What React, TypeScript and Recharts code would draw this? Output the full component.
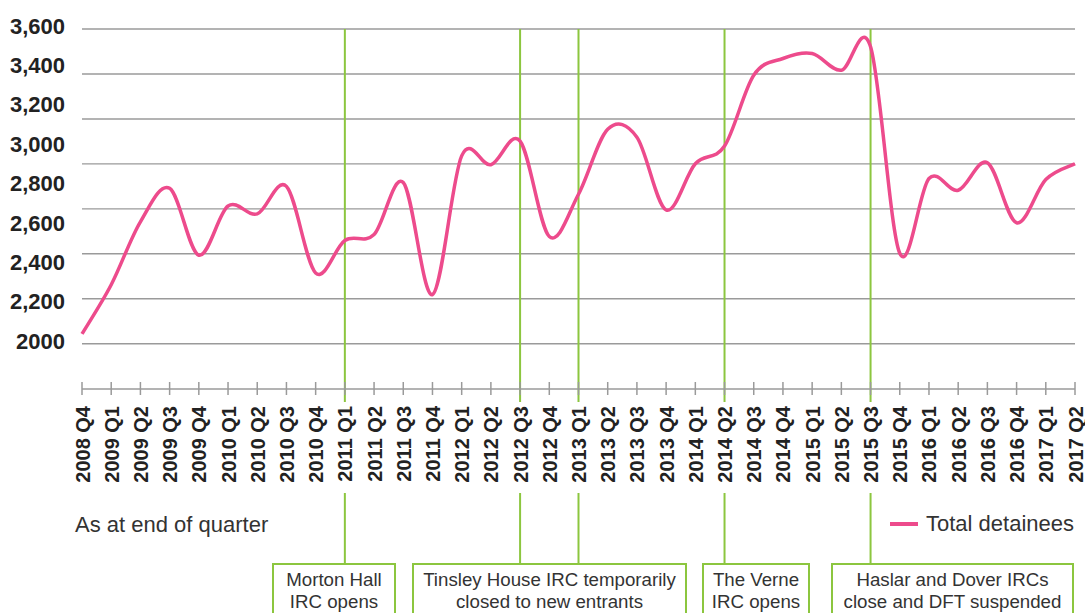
import React from 'react';
import { LineChart, Line, XAxis, YAxis, CartesianGrid, ReferenceLine } from 'recharts';

const quarters = [
  '2008 Q4',
  '2009 Q1', '2009 Q2', '2009 Q3', '2009 Q4',
  '2010 Q1', '2010 Q2', '2010 Q3', '2010 Q4',
  '2011 Q1', '2011 Q2', '2011 Q3', '2011 Q4',
  '2012 Q1', '2012 Q2', '2012 Q3', '2012 Q4',
  '2013 Q1', '2013 Q2', '2013 Q3', '2013 Q4',
  '2014 Q1', '2014 Q2', '2014 Q3', '2014 Q4',
  '2015 Q1', '2015 Q2', '2015 Q3', '2015 Q4',
  '2016 Q1', '2016 Q2', '2016 Q3', '2016 Q4',
  '2017 Q1', '2017 Q2',
];

const totalDetainees = [
  2050,
  2300, 2620, 2790, 2450,
  2700, 2660, 2800, 2360,
  2525, 2555, 2820, 2250,
  2955, 2910, 3030, 2545,
  2760, 3090, 3050, 2680,
  2915, 3005, 3365, 3450,
  3475, 3390, 3510, 2460,
  2840, 2780, 2920, 2615,
  2835, 2915,
];

const yTickValues = [2000, 2200, 2400, 2600, 2800, 3000, 3200, 3400, 3600];
const yTickLabels = ['2000', '2,200', '2,400', '2,600', '2,800', '3,000', '3,200', '3,400', '3,600'];

const seriesName = 'Total detainees';
const axisNote = 'As at end of quarter';

const eventQuarters = ['2011 Q1', '2012 Q3', '2013 Q1', '2014 Q2', '2015 Q3'];
const eventBoxTexts = [
  ['Morton Hall', 'IRC opens'],
  ['Tinsley House IRC temporarily', 'closed to new entrants'],
  ['The Verne', 'IRC opens'],
  ['Haslar and Dover IRCs', 'close and DFT suspended'],
];

// ---- layout / style ----
const W = 1085;
const H = 613;
const PLOT_TOP = 29;
const PLOT_BOTTOM = 389;
const Y_MIN = 1770;
const Y_MAX = 3600;
const PINK = '#ED4B8C';
const GREEN = '#8CC63F';
const GRID = '#9a9a9a';
const FONT = '"Liberation Sans", Arial, Helvetica, sans-serif';

const boxLayout = [
  { left: 272, width: 124 },
  { left: 412, width: 275 },
  { left: 702, width: 108 },
  { left: 831, width: 243 },
];

const valueAtPixel = (px: number) =>
  Y_MAX - ((px - PLOT_TOP) * (Y_MAX - Y_MIN)) / (PLOT_BOTTOM - PLOT_TOP);

const gridValues = Array.from({ length: 8 }, (_, k) => Y_MAX - (k * (Y_MAX - 2000)) / 7);

const data = quarters.map((q, i) => ({ quarter: q, total: totalDetainees[i] }));

// Catmull-Rom style smoothing (like spreadsheet "smoothed line")
const smoothCurve: any = (context: any) => {
  let pts: number[][] = [];
  return {
    areaStart() {},
    areaEnd() {},
    lineStart() {
      pts = [];
    },
    point(x: number, y: number) {
      pts.push([+x, +y]);
    },
    lineEnd() {
      const n = pts.length;
      if (!n) return;
      context.moveTo(pts[0][0], pts[0][1]);
      const k = 1 / 6;
      for (let i = 0; i < n - 1; i++) {
        const p0 = pts[Math.max(i - 1, 0)];
        const p1 = pts[i];
        const p2 = pts[i + 1];
        const p3 = pts[Math.min(i + 2, n - 1)];
        context.bezierCurveTo(
          p1[0] + (p2[0] - p0[0]) * k,
          p1[1] + (p2[1] - p0[1]) * k,
          p2[0] - (p3[0] - p1[0]) * k,
          p2[1] - (p3[1] - p1[1]) * k,
          p2[0],
          p2[1]
        );
      }
    },
  };
};

const XTick = (props: any) => {
  const { x, y, payload } = props;
  return (
    <g>
      <line x1={x} x2={x} y1={y - 24} y2={y - 11} stroke={GRID} strokeWidth={1.5} />
      <text
        transform={`translate(${x + 7.5},${y}) rotate(-90)`}
        textAnchor="end"
        fontFamily={FONT}
        fontWeight="bold"
        fontSize={20}
        fill="#222"
      >
        {payload.value}
      </text>
    </g>
  );
};

const YTick = (props: any) => {
  const { x, y, payload } = props;
  const idx = yTickValues.indexOf(payload.value);
  return (
    <text
      x={x}
      y={y - 3}
      dy="0.355em"
      textAnchor="end"
      fontFamily={FONT}
      fontWeight="bold"
      fontSize={22}
      fill="#222"
    >
      {idx >= 0 ? yTickLabels[idx] : payload.value}
    </text>
  );
};

export default function App() {
  return (
    <div
      style={{
        position: 'absolute',
        left: 0,
        top: 0,
        width: W,
        height: H,
        overflow: 'hidden',
        background: '#fff',
        fontFamily: FONT,
      }}
    >
      <LineChart
        width={W}
        height={H}
        data={data}
        margin={{ top: PLOT_TOP, right: 10, bottom: 24, left: 12 }}
      >
        <CartesianGrid
          vertical={false}
          horizontalValues={gridValues}
          stroke={GRID}
          strokeWidth={1.4}
        />
        <XAxis
          dataKey="quarter"
          interval={0}
          height={200}
          tickSize={6}
          tickMargin={11}
          tickLine={false}
          axisLine={{ stroke: GRID, strokeWidth: 1.5 }}
          tick={(p: any) => <XTick {...p} />}
        />
        <YAxis
          width={70}
          domain={[Y_MIN, Y_MAX]}
          ticks={yTickValues}
          interval={0}
          tickSize={6}
          tickMargin={11}
          tickLine={false}
          axisLine={false}
          allowDataOverflow
          tick={(p: any) => <YTick {...p} />}
        />
        {eventQuarters.map((q) => (
          <ReferenceLine
            key={`top-${q}`}
            ifOverflow="visible"
            segment={[
              { x: q, y: Y_MAX },
              { x: q, y: valueAtPixel(402) },
            ]}
            stroke={GREEN}
            strokeWidth={2}
          />
        ))}
        {eventQuarters.map((q) => (
          <ReferenceLine
            key={`bottom-${q}`}
            ifOverflow="visible"
            segment={[
              { x: q, y: valueAtPixel(493) },
              { x: q, y: valueAtPixel(564) },
            ]}
            stroke={GREEN}
            strokeWidth={2}
          />
        ))}
        <Line
          type={smoothCurve}
          dataKey="total"
          name={seriesName}
          stroke={PINK}
          strokeWidth={3.5}
          dot={false}
          activeDot={false}
          isAnimationActive={false}
        />
      </LineChart>

      <div
        style={{
          position: 'absolute',
          left: 75,
          top: 511,
          fontSize: 22,
          lineHeight: '28px',
          color: '#333',
          whiteSpace: 'nowrap',
        }}
      >
        {axisNote}
      </div>

      <div
        style={{
          position: 'absolute',
          left: 890,
          top: 510,
          display: 'flex',
          alignItems: 'center',
          whiteSpace: 'nowrap',
          fontSize: 22,
          lineHeight: '28px',
          color: '#333',
        }}
      >
        <span style={{ display: 'inline-block', width: 28, height: 4, background: PINK, marginRight: 8 }} />
        <span>{seriesName}</span>
      </div>

      {eventBoxTexts.map((lines, i) => (
        <div
          key={i}
          style={{
            position: 'absolute',
            left: boxLayout[i].left,
            top: 563,
            width: boxLayout[i].width,
            height: 80,
            boxSizing: 'border-box',
            border: `2px solid ${GREEN}`,
            background: '#fff',
            textAlign: 'center',
            fontSize: 18.7,
            lineHeight: '21.5px',
            color: '#333',
            paddingTop: 4,
            whiteSpace: 'nowrap',
          }}
        >
          {lines.map((t, j) => (
            <div key={j}>{t}</div>
          ))}
        </div>
      ))}
    </div>
  );
}
